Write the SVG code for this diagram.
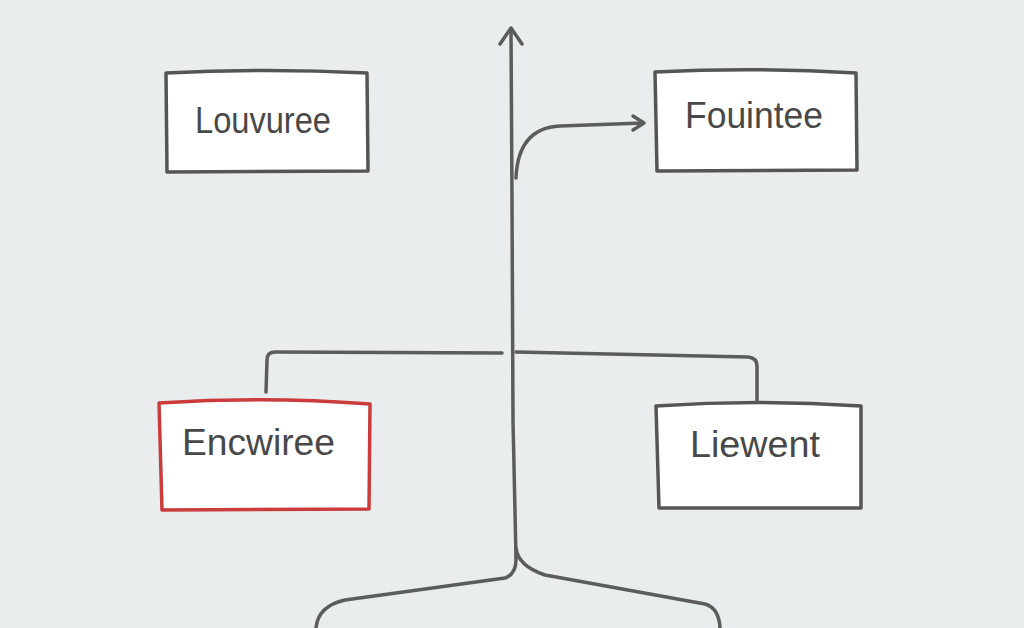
<svg xmlns="http://www.w3.org/2000/svg" width="1024" height="628" viewBox="0 0 1024 628">
<style>
.box{fill:#ffffff;stroke:#555555;stroke-width:3.5;stroke-linejoin:round}
.red{stroke:#cc3b3b}
.lbl{font-family:"Liberation Sans","DejaVu Sans",sans-serif;font-size:36px;fill:#484848}
.c{fill:none;stroke:#5c5c5c;stroke-width:3.5;stroke-linecap:round;stroke-linejoin:round}
</style>
<rect width="1024" height="628" fill="#e9eded"/>
<g id="connectors">
<path class="c" d="M511,30 L512,200 L513,420 L516,558"/>
<path class="c" d="M500,44 L511,28 L522,44"/>
<path class="c" d="M516,178 Q518,128 560,126 L643,123"/>
<path class="c" d="M633,116 L644,123 L633,130"/>
<path class="c" d="M502,353 L275,352 Q267,352 267,360 L266,392"/>
<path class="c" d="M516,352 L748,357 Q757,358 757,366 L757,402"/>
<path class="c" d="M516,556 Q517,574 505,578 L345,600 Q318,606 316,628"/>
<path class="c" d="M516,548 Q518,566 545,575 L705,604 Q719,608 720,628"/>
</g>
<g id="louvuree">
<path class="box" d="M166,73 Q266,68 367,73 L368,171 L167,172 Z"/>
<text class="lbl" x="195" y="133" textLength="136" lengthAdjust="spacingAndGlyphs">Louvuree</text>
</g>
<g id="fouintee">
<path class="box" d="M655,72 Q755,67 856,73 L857,170 L657,171 Z"/>
<text class="lbl" x="685" y="128" textLength="138" lengthAdjust="spacingAndGlyphs">Fouintee</text>
</g>
<g id="encwiree">
<path class="box red" d="M159,403 Q265,396 370,404 L369,509 L162,510 Z"/>
<text class="lbl" x="182" y="455" textLength="153" lengthAdjust="spacingAndGlyphs">Encwiree</text>
</g>
<g id="liewent">
<path class="box" d="M656,406 Q758,399 861,406 L861,508 L659,508 Z"/>
<text class="lbl" x="690" y="457" textLength="130" lengthAdjust="spacingAndGlyphs">Liewent</text>
</g>
</svg>
